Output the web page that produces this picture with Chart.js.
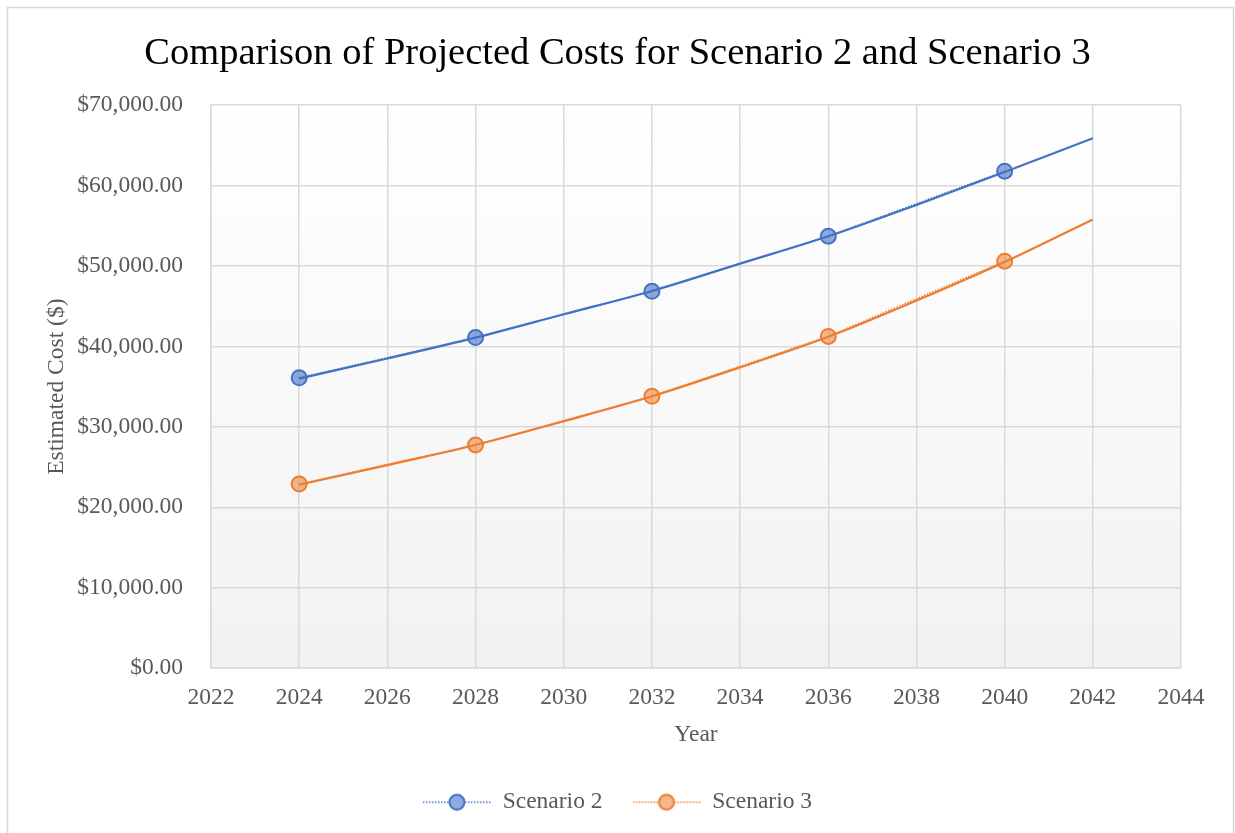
<!DOCTYPE html>
<html>
<head>
<meta charset="utf-8">
<script src="https://cdn.jsdelivr.net/npm/chart.js@4/dist/chart.umd.min.js"></script>
<style>
  html, body { margin: 0; padding: 0; background: #fff; }
  #wrap { width: 1235px; height: 833px; position: relative; }
</style>
</head>
<body>
<div id="wrap"><canvas id="costChart"></canvas></div>
<script>
// data
const years = [2024, 2028, 2032, 2036, 2040];
const scenario2 = [36100, 41100, 46850, 53700, 61800];
const scenario3 = [22900, 27750, 33800, 41250, 50600];

// trendline
const trendYears = [2024, 2026, 2028, 2030, 2032, 2034, 2036, 2038, 2040, 2042];
const trend2 = [36000, 38500, 41100, 44000, 46900, 50300, 53700, 57600, 61700, 65900];
const trend3 = [22800, 25250, 27750, 30700, 33800, 37400, 41200, 45700, 50500, 55800];

const xTicks = [2022, 2024, 2026, 2028, 2030, 2032, 2034, 2036, 2038, 2040, 2042, 2044];

const BLUE = '#4472C4', ORANGE = '#ED7D31';
const FONT = "'Liberation Serif', 'Times New Roman', serif";

function toPoints(xs, ys) {
    return xs.map((x, i) => ({ x: x, y: ys[i] }));
}

// legend symbol: dotted line with a marker in the middle
function legendSymbol(line, fill) {
    const c = document.createElement('canvas');
    c.width = 68; c.height = 20;
    const g = c.getContext('2d');
    g.strokeStyle = line;
    g.lineWidth = 1.5;
    g.setLineDash([1.5, 1.5]);
    g.beginPath(); g.moveTo(0, 10); g.lineTo(68, 10); g.stroke();
    g.setLineDash([]);
    g.beginPath(); g.arc(34, 10, 7.5, 0, Math.PI * 2);
    g.fillStyle = '#fff'; g.fill();
    g.fillStyle = fill; g.fill();
    g.lineWidth = 2; g.strokeStyle = line; g.stroke();
    return c;
}
const symbols = [legendSymbol(BLUE, 'rgba(68,114,196,0.6)'), legendSymbol(ORANGE, 'rgba(237,125,49,0.55)')];

const frame = {
    id: 'frame',
    beforeDraw(chart) {
        const { ctx, chartArea: a } = chart;
        ctx.save();
        ctx.fillStyle = '#fff';
        ctx.fillRect(0, 0, chart.width, chart.height);
        ctx.strokeStyle = '#d9d9d9';
        ctx.lineWidth = 1.5;
        ctx.strokeRect(7.5, 7.5, 1226, 900);
        const grad = ctx.createLinearGradient(0, a.top, 0, a.bottom);
        grad.addColorStop(0, '#ffffff');
        grad.addColorStop(1, '#f2f2f2');
        ctx.fillStyle = grad;
        ctx.fillRect(a.left, a.top, a.right - a.left, a.bottom - a.top);
        ctx.restore();
    }
};

new Chart(document.getElementById('costChart'), {
    type: 'scatter',
    data: {
        datasets: [
            {
                label: 'Scenario 2',
                data: toPoints(years, scenario2),
                showLine: true,
                borderColor: BLUE,
                borderWidth: 1.5,
                borderDash: [1.5, 1.5],
                pointRadius: 7.5,
                pointBorderWidth: 2,
                pointBackgroundColor: 'rgba(68,114,196,0.6)',
                pointBorderColor: BLUE,
                order: 1
            },
            {
                label: 'Scenario 3',
                data: toPoints(years, scenario3),
                showLine: true,
                borderColor: ORANGE,
                borderWidth: 1.5,
                borderDash: [1.5, 1.5],
                pointRadius: 7.5,
                pointBorderWidth: 2,
                pointBackgroundColor: 'rgba(237,125,49,0.55)',
                pointBorderColor: ORANGE,
                order: 1
            },
            {
                label: 'trend2',
                data: toPoints(trendYears, trend2),
                showLine: true,
                borderColor: BLUE,
                borderWidth: 2.2,
                pointRadius: 0,
                cubicInterpolationMode: 'monotone',
                order: 2
            },
            {
                label: 'trend3',
                data: toPoints(trendYears, trend3),
                showLine: true,
                borderColor: ORANGE,
                borderWidth: 2.2,
                pointRadius: 0,
                cubicInterpolationMode: 'monotone',
                order: 2
            }
        ]
    },
    options: {
        responsive: true,
        maintainAspectRatio: false,
        animation: false,
        layout: { padding: { top: 0, right: 0, bottom: 9, left: 0 } },
        plugins: {
            title: {
                display: true,
                text: 'Comparison of Projected Costs for Scenario 2 and Scenario 3',
                color: '#000',
                font: { family: FONT, size: 38.5, weight: 'normal' },
                padding: { top: 31, bottom: 28 }
            },
            legend: {
                position: 'bottom',
                labels: {
                    color: '#595959',
                    font: { family: FONT, size: 23.5 },
                    usePointStyle: true,
                    pointStyleWidth: 68,
                    boxHeight: 20,
                    padding: 30,
                    generateLabels(chart) {
                        return chart.data.datasets.slice(0, 2).map((ds, i) => ({
                            text: ds.label,
                            pointStyle: symbols[i],
                            fillStyle: ds.pointBackgroundColor,
                            strokeStyle: ds.borderColor,
                            lineWidth: 0,
                            fontColor: '#595959',
                            datasetIndex: i
                        }));
                    }
                }
            },
            tooltip: { enabled: false }
        },
        scales: {
            x: {
                type: 'linear',
                min: 2022,
                max: 2044,
                afterBuildTicks(scale) {
                    scale.ticks = xTicks.map(v => ({ value: v }));
                },
                ticks: {
                    color: '#595959',
                    font: { family: FONT, size: 23.5 },
                    padding: 16,
                    callback: v => String(v)
                },
                grid: { color: '#d9d9d9', lineWidth: 1.5, drawTicks: false },
                border: { color: '#d9d9d9', width: 1.5 },
                title: {
                    display: true,
                    text: 'Year',
                    color: '#595959',
                    font: { family: FONT, size: 23.5 },
                    padding: { top: -8, bottom: 12 }
                }
            },
            y: {
                min: 0,
                max: 70000,
                ticks: {
                    stepSize: 10000,
                    color: '#595959',
                    font: { family: FONT, size: 23.5 },
                    padding: 28,
                    callback: v => '$' + v.toLocaleString('en-US', { minimumFractionDigits: 2, maximumFractionDigits: 2 })
                },
                grid: { color: '#d9d9d9', lineWidth: 1.5, drawTicks: false },
                border: { color: '#d9d9d9', width: 1.5 },
                title: {
                    display: true,
                    text: 'Estimated Cost ($)',
                    color: '#595959',
                    font: { family: FONT, size: 23.5 },
                    padding: { top: 43, bottom: 0 }
                },
                afterFit(scale) { scale.width = 211; }
            },
            // empty right-hand strip so the plot ends where the reference does
            spacer: {
                position: 'right',
                min: 0,
                max: 1,
                ticks: { display: false },
                grid: { display: false },
                border: { display: false },
                afterFit(scale) { scale.width = 54; }
            }
        }
    },
    plugins: [frame]
});
</script>
</body>
</html>
